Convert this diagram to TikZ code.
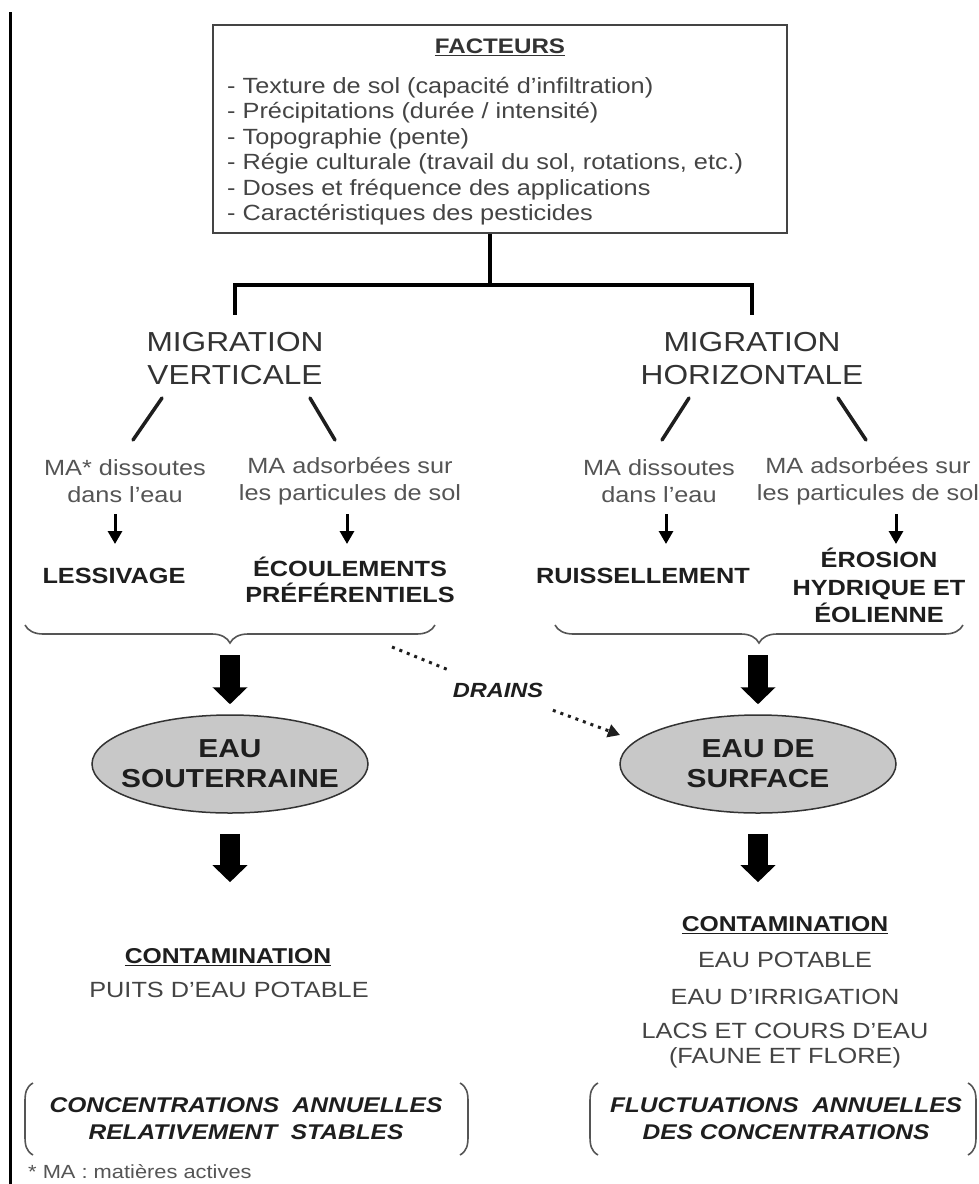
\documentclass[tikz,border=0pt]{standalone}
\usepackage{fontspec}
\setmainfont{Liberation Sans}[FakeStretch=1.15]
\usetikzlibrary{arrows.meta,decorations.pathreplacing,shapes.geometric,calc}
\definecolor{boxcol}{HTML}{444444}
\definecolor{listcol}{HTML}{444444}
\definecolor{macol}{HTML}{555555}
\definecolor{headcol}{HTML}{333333}
\definecolor{boldcol}{HTML}{1E1E1E}
\definecolor{ellfill}{HTML}{C8C8C8}
\definecolor{bracecol}{HTML}{555555}
\newcommand\myfs[2]{\fontsize{#1pt}{#2pt}\selectfont}
\begin{document}
\begin{tikzpicture}[x=1pt,y=-1pt,
  lbl/.style={inner sep=0pt, align=center},
  heading/.style={lbl, text=headcol, font=\myfs{27.5}{33}},
  matext/.style={lbl, text=macol, font=\myfs{22}{27}},
  boldlbl/.style={lbl, text=boldcol, font=\myfs{22}{27}\bfseries},
  ell/.style={ellipse, draw=headcol, line width=1.5pt, fill=ellfill, minimum width=276pt, minimum height=98pt, inner xsep=-16pt, inner ysep=4pt, align=center, text=boldcol, font=\myfs{26}{30}\bfseries},
  conn/.style={line width=3.5pt, black},
  slash/.style={line width=3.5pt, boldcol, line cap=round},
  sarrow/.style={line width=3pt, black, -{Triangle[width=14pt,length=13pt]}},
  bigarrow/.style={line width=20pt, black, -{Triangle[width=34pt,length=17pt]}},
  dots/.style={line width=3pt, boldcol, dash pattern=on 3pt off 5pt},
  bracelin/.style={decorate, decoration={brace, mirror, amplitude=18pt}, line width=1.6pt, bracecol},
  bracket/.style={line width=1.6pt, bracecol},
  contam/.style={lbl, text=boldcol, font=\myfs{21.5}{26}\bfseries},
  plain/.style={lbl, text=listcol, font=\myfs{22}{25}},
  concl/.style={lbl, text=boldcol, font=\myfs{21.3}{27}\bfseries\itshape}
]
\useasboundingbox (0,0) rectangle (979,1184);
\fill[white] (0,0) rectangle (979,1184);

% left margin rule
\coordinate (mtop) at (10,12);
\coordinate (mbot) at (10,1184);
\draw[line width=3pt] (mtop) -- (mbot);

% factors box
\node[draw=boxcol, line width=2pt, minimum width=574pt, minimum height=208pt, inner sep=0pt] (fac) at (500,129) {};
\node[lbl, text=headcol, font=\myfs{21}{25}\bfseries] (factit) at (500,47) {\underline{FACTEURS}};
\node[inner sep=0pt, anchor=north west, align=left, text=listcol, font=\myfs{22}{25.4}] (faclist) at (227,77)
 {- Texture de sol (capacité d'infiltration)\\
  - Précipitations (durée / intensité)\\
  - Topographie (pente)\\
  - Régie culturale (travail du sol, rotations, etc.)\\
  - Doses et fréquence des applications\\
  - Caractéristiques des pesticides};

% migration headings
\node[heading] (mv) at (235,358.5) {MIGRATION\\VERTICALE};
\node[heading] (mh) at (752,358.5) {MIGRATION\\HORIZONTALE};

\coordinate (j) at (490,285);
\coordinate (mvtop) at (235,313);
\coordinate (mhtop) at (752,313);
\draw[conn] (fac.south -| j) -- (j);
\draw[conn, line cap=rect] (mvtop) -- (mvtop |- j) -- (mhtop |- j) -- (mhtop);

% slashes
\coordinate (s1a) at (162,398); \coordinate (s1b) at (133,440);
\coordinate (s2a) at (310,398); \coordinate (s2b) at (335,440);
\coordinate (s3a) at (689,398); \coordinate (s3b) at (662,440);
\coordinate (s4a) at (838,398); \coordinate (s4b) at (866,440);
\draw[slash] (s1a) -- (s1b);
\draw[slash] (s2a) -- (s2b);
\draw[slash] (s3a) -- (s3b);
\draw[slash] (s4a) -- (s4b);

% MA texts
\node[matext] (ma1) at (125,481.5) {MA* dissoutes\\dans l'eau};
\node[matext] (ma2) at (350,481.5) {MA adsorbées sur\\les particules de sol};
\node[matext] (ma3) at (659,481.5) {MA dissoutes\\dans l'eau};
\node[matext] (ma4) at (868,481.5) {MA adsorbées sur\\les particules de sol};

% process labels
\node[boldlbl] (les) at (114,576) {LESSIVAGE};
\node[boldlbl, font=\myfs{22}{26}\bfseries] (eco) at (350,580) {ÉCOULEMENTS\\PRÉFÉRENTIELS};
\node[boldlbl] (rui) at (643,576) {RUISSELLEMENT};
\node[boldlbl, font=\myfs{22}{27.5}\bfseries] (ero) at (879,585.5) {ÉROSION\\HYDRIQUE ET\\ÉOLIENNE};

% small arrows
\coordinate (a1a) at (115,514); \coordinate (a1b) at (115,544);
\coordinate (a2a) at (347,514); \coordinate (a2b) at (347,544);
\coordinate (a3a) at (666,514); \coordinate (a3b) at (666,544);
\coordinate (a4a) at (896,514); \coordinate (a4b) at (896,544);
\draw[sarrow] (a1a) -- (a1b);
\draw[sarrow] (a2a) -- (a2b);
\draw[sarrow] (a3a) -- (a3b);
\draw[sarrow] (a4a) -- (a4b);

% braces
\coordinate (bl1) at (25,625); \coordinate (bl2) at (435,625);
\coordinate (br1) at (555,625); \coordinate (br2) at (963,625);
\draw[bracelin] (bl1) -- (bl2);
\draw[bracelin] (br1) -- (br2);

% ellipses
\node[ell] (eso) at (230,764) {EAU\\SOUTERRAINE};
\node[ell] (esu) at (758,764) {EAU DE\\SURFACE};

% thick arrows
\coordinate (tl) at (230,655);
\coordinate (tr) at (758,655);
\draw[bigarrow, shorten >=10pt] (tl) -- (eso.north);
\draw[bigarrow, shorten >=10pt] (tr) -- (esu.north);

% drains
\coordinate (dA) at (392,647);
\coordinate (dB) at (620,735);
\node[lbl, text=boldcol, font=\myfs{20.5}{24}\bfseries\itshape, outer sep=13pt] (drains) at (498,690) {DRAINS};
\draw[dots] (dA) -- (drains);
\draw[dots, -{Triangle[width=13pt,length=12pt]}] (drains) -- (dB);

% contamination
\node[contam] (contL) at (228,957) {\underline{CONTAMINATION}};
\node[plain] (puits) at (229,990) {PUITS D'EAU POTABLE};
\node[contam] (contR) at (785,925) {\underline{CONTAMINATION}};
\node[plain] (potR) at (785,960) {EAU POTABLE};
\node[plain] (irr) at (785,997) {EAU D'IRRIGATION};
\node[plain] (lacs) at (785,1045.5) {LACS ET COURS D'EAU\\(FAUNE ET FLORE)};

\draw[bigarrow, shorten <=20pt, shorten >=66pt] (eso.south) -- (eso.south |- contL.north);
\draw[bigarrow, shorten <=20pt, shorten >=34pt] (esu.south) -- (esu.south |- contR.north);

% conclusions
\node[concl] (stab) at (246,1118.5) {CONCENTRATIONS\ \ ANNUELLES\\RELATIVEMENT\ \ STABLES};
\node[concl] (fluc) at (786,1118.5) {FLUCTUATIONS\ \ ANNUELLES\\DES CONCENTRATIONS};

\draw[bracket] (33,1083) .. controls (26,1087) and (25,1093) .. (25,1102) -- (25,1136) .. controls (25,1145) and (26,1151) .. (33,1155);
\draw[bracket] (460,1083) .. controls (467,1087) and (468,1093) .. (468,1102) -- (468,1136) .. controls (468,1145) and (467,1151) .. (460,1155);
\draw[bracket] (598,1083) .. controls (591,1087) and (590,1093) .. (590,1102) -- (590,1136) .. controls (590,1145) and (591,1151) .. (598,1155);
\draw[bracket] (968,1083) .. controls (975,1087) and (976,1093) .. (976,1102) -- (976,1136) .. controls (976,1145) and (975,1151) .. (968,1155);

% footnote
\node[lbl, anchor=west, text=macol, font=\myfs{19}{22}] (foot) at (28,1172) {* MA : matières actives};
\end{tikzpicture}
\end{document}
